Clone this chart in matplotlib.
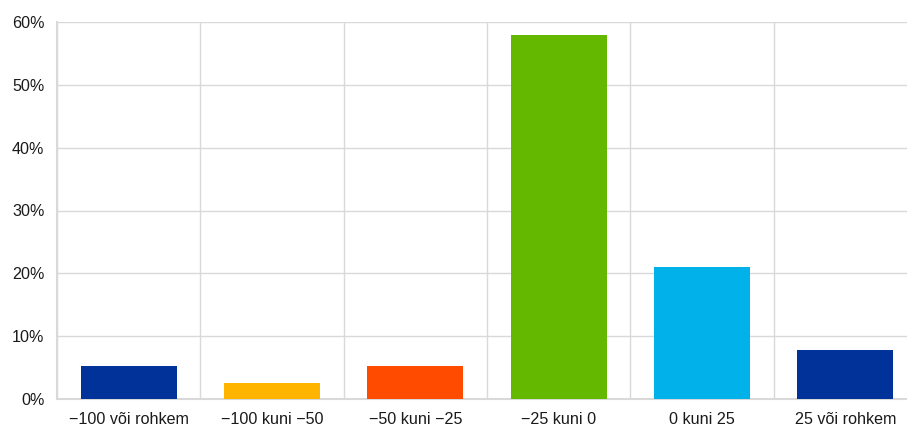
import matplotlib
matplotlib.use("Agg")
import matplotlib.pyplot as plt
from matplotlib.ticker import MultipleLocator, PercentFormatter

plt.rcParams["font.family"] = ["Liberation Sans", "DejaVu Sans"]

# jaotus vahemike kaupa (%)
categories = ["\u2212100 või rohkem", "\u2212100 kuni \u221250", "\u221250 kuni \u221225",
              "\u221225 kuni 0", "0 kuni 25", "25 või rohkem"]
values = [5.25, 2.6, 5.25, 57.9, 21.0, 7.8]
colors = ["#003299", "#FFB400", "#FF4B00", "#65B800", "#00B1EA", "#003299"]

fig = plt.figure(figsize=(9.07, 4.25), dpi=100)
ax = fig.add_axes([57 / 907, (425 - 399) / 425, 860 / 907, 377 / 425])

x = list(range(len(categories)))
ax.bar(x, values, width=0.67, color=colors, zorder=3)

ax.set_xlim(-0.5, len(categories) - 0.5)
ax.set_ylim(0, 60)
ax.yaxis.set_major_locator(MultipleLocator(10))
ax.yaxis.set_major_formatter(PercentFormatter(decimals=0))

ax.set_xticks(x)
ax.set_xticklabels(categories)
ax.set_xticks([i - 0.5 for i in range(len(categories) + 1)], minor=True)

grid_col = "#D9D9D9"
ax.grid(axis="y", which="major", color=grid_col, linewidth=1, zorder=0)
ax.grid(axis="x", which="minor", color=grid_col, linewidth=1, zorder=0)
ax.tick_params(axis="both", which="both", length=0, labelsize=11.6, colors="#1a1a1a")
ax.tick_params(axis="x", pad=9)
ax.tick_params(axis="y", pad=9)

for side in ("top", "right"):
    ax.spines[side].set_visible(False)
for side in ("left", "bottom"):
    ax.spines[side].set_color(grid_col)
    ax.spines[side].set_linewidth(1.5)

fig.savefig("out.png", dpi=100)
